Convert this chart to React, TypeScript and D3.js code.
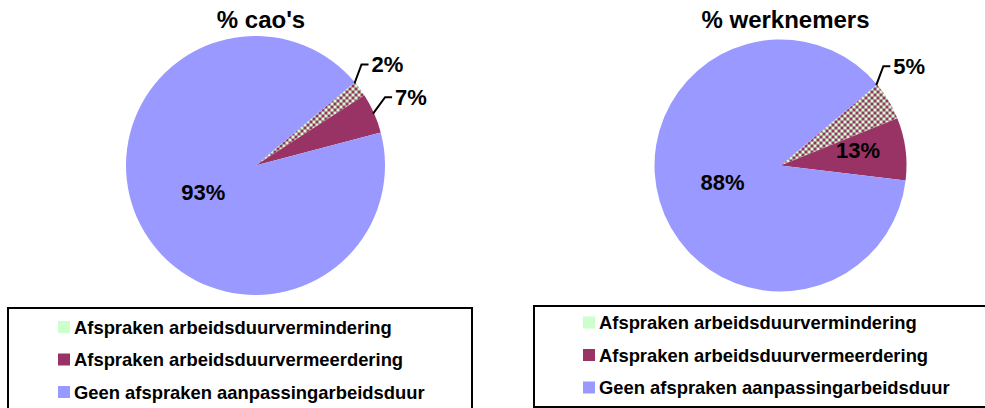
import { useEffect, useRef } from 'react';
import * as d3 from 'd3';

// legend categories (same for both pies)
const categories = [
  'Afspraken arbeidsduurvermindering',
  'Afspraken arbeidsduurvermeerdering',
  'Geen afspraken aanpassingarbeidsduur',
];
const titles = ["% cao's", '% werknemers'];

// slice sizes, labels as printed
const caoValues = [2, 5, 93];
const caoLabels = ['2%', '7%', '93%'];
const werknemersValues = [5, 8, 87];
const werknemersLabels = ['5%', '13%', '88%'];

const BLUE = '#9999FF';
const MAROON = '#993366';
const GREEN = '#CCFFCC';
const FONT = '"Liberation Sans", Arial, sans-serif';

const panels = [
  {
    title: titles[0], values: caoValues, labels: caoLabels,
    cx: 255.5, cy: 165.5, r: 129.5, titleX: 261,
    place: ['out', 'out', 'in'], anchor: [0.05, 0.5, 0.5], inR: [0.5, 0.5, 0.455], dy: [0, 0, 0],
    legend: { x: 8, y: 308, w: 464, h: 130, rowY: 327, itemX: 58 },
  },
  {
    title: titles[1], values: werknemersValues, labels: werknemersLabels,
    cx: 780.5, cy: 165.5, r: 126, titleX: 785.5,
    place: ['out', 'in', 'in'], anchor: [0, 0.5, 0.5], inR: [0.5, 0.62, 0.48], dy: [0, -5, 0],
    legend: { x: 534, y: 306, w: 470, h: 101, rowY: 322.5, itemX: 583 },
  },
];

export default function App() {
  const svgRef = useRef<SVGSVGElement>(null);

  useEffect(() => {
    if (!svgRef.current) return;
    const svg = d3.select(svgRef.current);
    svg.selectAll('*').remove();

    // small checkerboard fill for the first slice
    const pat = svg.append('defs').append('pattern')
      .attr('id', 'checker')
      .attr('width', 6).attr('height', 6)
      .attr('patternUnits', 'userSpaceOnUse');
    pat.append('rect').attr('width', 6).attr('height', 6).attr('fill', MAROON);
    pat.append('rect').attr('width', 3).attr('height', 3).attr('fill', GREEN);
    pat.append('rect').attr('x', 3).attr('y', 3).attr('width', 3).attr('height', 3).attr('fill', GREEN);

    const fills = ['url(#checker)', MAROON, BLUE];
    const swatches = [GREEN, MAROON, BLUE];
    const start = (50 * Math.PI) / 180;

    panels.forEach(p => {
      const g = svg.append('g');
      const polar = (rr: number, a: number) => [p.cx + rr * Math.sin(a), p.cy - rr * Math.cos(a)];

      g.append('text')
        .attr('x', p.titleX).attr('y', 27.5)
        .attr('text-anchor', 'middle')
        .attr('font-family', FONT).attr('font-weight', 'bold').attr('font-size', 24)
        .text(p.title);

      const pie = d3.pie<number>().sort(null).startAngle(start).endAngle(start + 2 * Math.PI);
      const arcs = pie(p.values);
      const arc = d3.arc<d3.PieArcDatum<number>>().innerRadius(0).outerRadius(p.r);

      g.selectAll('path.slice')
        .data(arcs)
        .join('path')
        .attr('class', 'slice')
        .attr('transform', `translate(${p.cx},${p.cy})`)
        .attr('d', arc)
        .attr('fill', (_, i) => fills[i]);

      arcs.forEach((a, i) => {
        const label = p.labels[i];
        if (p.place[i] === 'in') {
          const mid = (a.startAngle + a.endAngle) / 2;
          const [x, y] = polar(p.r * p.inR[i], mid);
          g.append('text')
            .attr('x', x).attr('y', y + p.dy[i])
            .attr('text-anchor', 'middle').attr('dominant-baseline', 'central')
            .attr('font-family', FONT).attr('font-weight', 'bold').attr('font-size', 22)
            .text(label);
        } else {
          const ang = a.startAngle + (a.endAngle - a.startAngle) * p.anchor[i];
          const [x0, y0] = polar(p.r - 1, ang);
          const [x1, y1] = polar(p.r + 17, ang - (4 * Math.PI) / 180);
          const x2 = x1 + 7;
          g.append('path')
            .attr('d', `M${x0},${y0}L${x1},${y1}L${x2},${y1}`)
            .attr('fill', 'none').attr('stroke', '#000').attr('stroke-width', 2);
          g.append('text')
            .attr('x', x2 + 3).attr('y', y1)
            .attr('dominant-baseline', 'central')
            .attr('font-family', FONT).attr('font-weight', 'bold').attr('font-size', 22)
            .text(label);
        }
      });

      // legend box
      const L = p.legend;
      g.append('rect')
        .attr('x', L.x).attr('y', L.y).attr('width', L.w).attr('height', L.h)
        .attr('fill', '#fff').attr('stroke', '#000').attr('stroke-width', 2);
      categories.forEach((c, i) => {
        const cy = L.rowY + i * 32.5;
        g.append('rect')
          .attr('x', L.itemX).attr('y', cy - 6).attr('width', 12).attr('height', 12)
          .attr('fill', swatches[i]);
        g.append('text')
          .attr('x', L.itemX + 16).attr('y', cy)
          .attr('dominant-baseline', 'central')
          .attr('font-family', FONT).attr('font-weight', 'bold').attr('font-size', 18.4)
          .text(c);
      });
    });
  }, []);

  return (
    <svg
      ref={svgRef}
      width={985}
      height={408}
      style={{ position: 'absolute', left: 0, top: 0, background: '#fff' }}
    />
  );
}
